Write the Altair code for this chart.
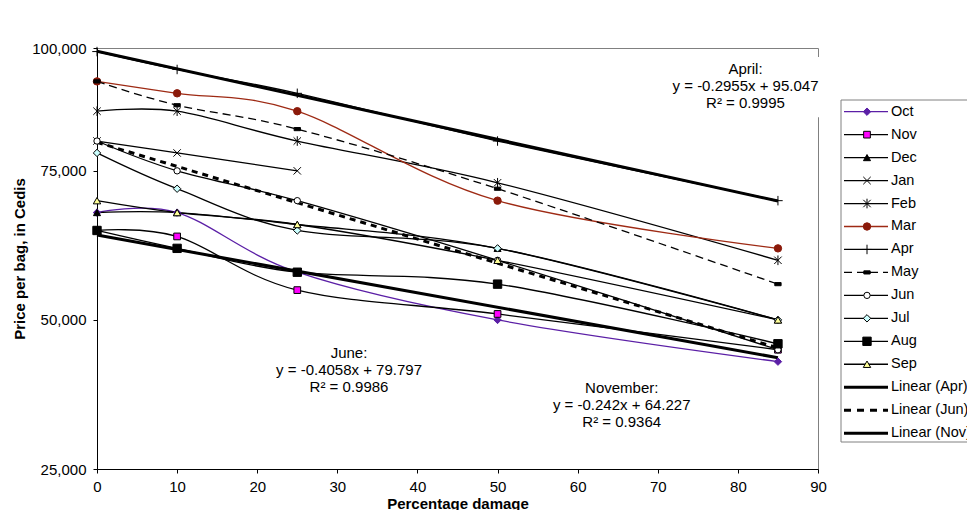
import altair as alt
import pandas as pd

# ---------------- data ----------------
x_vals = [0, 10, 25, 50, 85]
months = ["Oct", "Nov", "Dec", "Jan", "Feb", "Mar", "Apr", "May", "Jun", "Jul", "Aug", "Sep"]
oct_v = [68000, 68000, 58000, 50000, 43000]
nov_v = [65000, 64000, 55000, 51000, 45000]
dec_v = [68000, 68000, 66000, 62000, 50000]
jan_v = [80000, 78000, 75000]
feb_v = [85000, 85000, 80000, 73000, 60000]
mar_v = [90000, 88000, 85000, 70000, 62000]
apr_v = [95000, 92000, 88000, 80000, 70000]
may_v = [90000, 86000, 82000, 72000, 56000]
jun_v = [80000, 75000, 70000, 60000, 45000]
jul_v = [78000, 72000, 65000, 62000, 50000]
aug_v = [65000, 62000, 58000, 56000, 46000]
sep_v = [70000, 68000, 66000, 60000, 50000]
series_vals = [oct_v, nov_v, dec_v, jan_v, feb_v, mar_v, apr_v, may_v, jun_v, jul_v, aug_v, sep_v]

trend_labels = ["Linear (Apr)", "Linear (Jun)", "Linear (Nov)"]

ann_text = [
    "April:\ny = -0.2955x + 95.047\nR\u00b2 = 0.9995",
    "June:\ny = -0.4058x + 79.797\nR\u00b2 = 0.9986",
    "November:\ny = -0.242x + 64.227\nR\u00b2 = 0.9364",
]
ann_x = [80.95, 31.46, 65.5]
ann_y = [92081, 44450, 38634]

# ---------------- styles ----------------
PURPLE = "#5B1FA6"
RED = "#9E2A14"
X_PATH = "M-1,-1L1,1M-1,1L1,-1"
AST_PATH = "M-1,-1L1,1M-1,1L1,-1M0,-1.3L0,1.3"
PLUS_PATH = "M-1,0L1,0M0,-1L0,1"
DASH_PATH = "M-1,-0.5L1,-0.5L1,0.5L-1,0.5Z"
line_color = [PURPLE, "black", "black", "black", "black", RED, "black", "black", "black", "black", "black", "black"]
m_shape = ["diamond", "square", "triangle-up", X_PATH, AST_PATH, "circle", PLUS_PATH, DASH_PATH,
           "circle", "diamond", "square", "triangle-up"]
m_fill = [PURPLE, "#FF00FF", "black", "transparent", "transparent", "#8B1A0A", "transparent", "black",
          "white", "#CCFFFF", "black", "#FFFF99"]
m_stroke = [PURPLE, "black", "black", "black", "black", "#8B1A0A", "black", "black",
            "black", "black", "black", "black"]
m_size = [55, 45, 50, 55, 55, 55, 90, 40, 40, 55, 70, 55]

rows = []
for i, (name, vals) in enumerate(zip(months, series_vals)):
    for xv, yv in zip(x_vals, vals):
        rows.append(dict(name=name, order=i, x=xv, y=yv, lcolor=line_color[i], shape=m_shape[i],
                         mfill=m_fill[i], mstroke=m_stroke[i], msize=m_size[i]))
df = pd.DataFrame(rows)

leg_rows = []
for i, name in enumerate(months):
    leg_rows.append(dict(label=name, idx=i, lcolor=line_color[i], sw=1.3, kind="may" if name == "May" else "solid",
                         shape=m_shape[i], mfill=m_fill[i], mstroke=m_stroke[i], msize=m_size[i], sym=1))
for j, lab in enumerate(trend_labels):
    leg_rows.append(dict(label=lab, idx=12 + j, lcolor="black", sw=3, kind="tdash" if j == 1 else "solid",
                         shape="circle", mfill="black", mstroke="black", msize=0, sym=0))
leg_df = pd.DataFrame(leg_rows)

ann_df = pd.DataFrame({"ax": ann_x, "ay": ann_y, "txt": ann_text})
bg_df = pd.DataFrame({"bx": [72.2], "bx2": [91.0], "by": [84000], "by2": [94100]})

FONT = "Liberation Sans"
Y_DOMAIN = [25000, 95600]


def X(field):
    return alt.X(field, type="quantitative",
                 scale=alt.Scale(domain=[0, 90], nice=False, zero=False),
                 axis=alt.Axis(values=list(range(0, 91, 10)), tickSize=4, labelPadding=6, grid=False,
                               labelFlush=False, labelOverlap=False, title="Percentage damage",
                               titleX=360.5, titleY=39, titleBaseline="alphabetic", titleAlign="center"))


def Y(field):
    return alt.Y(field, type="quantitative",
                 scale=alt.Scale(domain=Y_DOMAIN, nice=False, zero=False),
                 axis=alt.Axis(values=[25000, 50000, 75000, 95600], tickSize=4, labelPadding=7, grid=False,
                               labelOverlap=False, labelFlush=False,
                               labelExpr="datum.value > 90000 ? '100,000' : format(datum.value, ',')",
                               title="Price per bag, in Cedis", titleAngle=270, titleX=-78, titleY=210.5,
                               titleAlign="center", titleBaseline="middle"))


base = alt.Chart(df)

lines_solid = base.transform_filter("datum.name != 'May'").mark_line(
    interpolate="cardinal", strokeWidth=1.3).encode(
    x=X("x"), y=Y("y"), detail="name:N", stroke=alt.Stroke("lcolor:N", scale=None))

lines_may = base.transform_filter("datum.name == 'May'").mark_line(
    interpolate="cardinal", strokeWidth=1.3, strokeDash=[8, 5], color="black").encode(
    x=X("x"), y=Y("y"), detail="name:N")

trend_solid = base.transform_filter(alt.FieldOneOfPredicate(field="name", oneOf=["Apr", "Nov"])).transform_regression(
    "x", "y", groupby=["name"], extent=[0, 85]).mark_line(strokeWidth=3, color="black").encode(
    x=X("x"), y=Y("y"), detail="name:N")

trend_dash = base.transform_filter("datum.name == 'Jun'").transform_regression(
    "x", "y", groupby=["name"], extent=[0, 85]).mark_line(strokeWidth=3, color="black", strokeDash=[6, 5]).encode(
    x=X("x"), y=Y("y"), detail="name:N")

markers = base.mark_point(filled=True, opacity=1, strokeWidth=1).encode(
    x=X("x"), y=Y("y"),
    shape=alt.Shape("shape:N", scale=None),
    fill=alt.Fill("mfill:N", scale=None),
    stroke=alt.Stroke("mstroke:N", scale=None),
    size=alt.Size("msize:Q", scale=None),
    order=alt.Order("order:Q"))

ann_bg = alt.Chart(bg_df).mark_rect(fill="white").encode(
    x=X("bx"), x2="bx2", y=Y("by"), y2="by2")

ann = alt.Chart(ann_df).mark_text(align="center", baseline="middle", fontSize=15, lineHeight=17,
                                  lineBreak="\n", font=FONT, color="black").encode(
    x=X("ax"), y=Y("ay"), text="txt:N")

main = alt.layer(lines_solid, lines_may, trend_solid, trend_dash, markers, ann_bg, ann)

# ---------------- legend ----------------
LY = alt.Y("idx:Q", scale=alt.Scale(domain=[-2.774, 15.562], reverse=True, nice=False, zero=False), axis=None)
lbase = alt.Chart(leg_df)

leg_box = alt.Chart(pd.DataFrame({"a": [0]})).mark_rect(fill="white", stroke="#808080", strokeWidth=1).encode(
    x=alt.value(744), x2=alt.value(900), y=alt.value(52), y2=alt.value(394))

leg_solid = lbase.transform_filter("datum.kind == 'solid'").mark_rule().encode(
    x=alt.value(747), x2=alt.value(791), y=LY,
    stroke=alt.Stroke("lcolor:N", scale=None), strokeWidth=alt.StrokeWidth("sw:Q", scale=None))
leg_may = lbase.transform_filter("datum.kind == 'may'").mark_rule(strokeDash=[8, 5], strokeWidth=1.3, color="black").encode(
    x=alt.value(747), x2=alt.value(791), y=LY)
leg_tdash = lbase.transform_filter("datum.kind == 'tdash'").mark_rule(strokeDash=[7, 6], strokeWidth=3, color="black").encode(
    x=alt.value(747), x2=alt.value(791), y=LY)
leg_pts = lbase.transform_filter("datum.sym == 1").mark_point(filled=True, opacity=1, strokeWidth=1).encode(
    x=alt.value(770), y=LY,
    shape=alt.Shape("shape:N", scale=None),
    fill=alt.Fill("mfill:N", scale=None),
    stroke=alt.Stroke("mstroke:N", scale=None),
    size=alt.Size("msize:Q", scale=None))
leg_txt = lbase.mark_text(align="left", baseline="middle", fontSize=14.5, font=FONT, color="black").encode(
    x=alt.value(794), y=LY, text="label:N")

legend = alt.layer(leg_box, leg_solid, leg_may, leg_tdash, leg_pts, leg_txt)

chart = alt.layer(main, legend).resolve_scale(y="independent", x="independent").properties(
    width=721, height=421, autosize="none",
    padding={"left": 89, "top": 40, "right": 149, "bottom": 41},
).configure(font=FONT).configure_view(stroke="#808080", strokeWidth=1).configure_axis(
    labelFont=FONT, titleFont=FONT, labelFontSize=15, titleFontSize=15, titleFontWeight="bold",
    labelColor="black", titleColor="black", domainColor="black", tickColor="black", domainWidth=1)

chart.save("out.html", embed_options={"renderer": "svg", "actions": False})
